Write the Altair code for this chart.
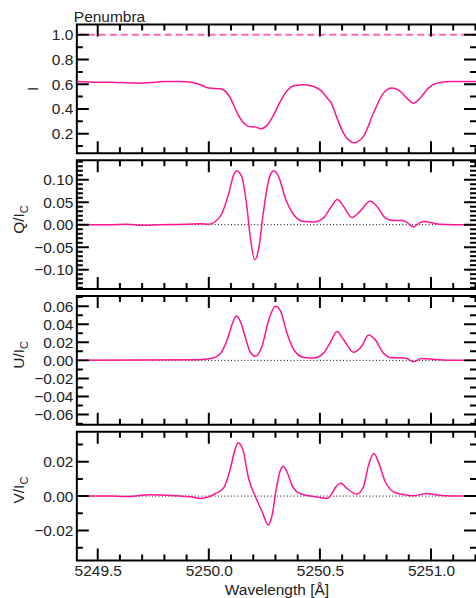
import altair as alt
import pandas as pd

# ---------------- data ----------------
wl_I = [5249.406, 5249.50, 5249.590, 5249.693, 5249.76, 5249.815, 5249.87, 5249.918, 5249.963,
        5250.000, 5250.053, 5250.075, 5250.097, 5250.128, 5250.157, 5250.180, 5250.210, 5250.235,
        5250.262, 5250.292, 5250.322, 5250.352, 5250.382, 5250.427, 5250.472, 5250.509, 5250.539,
        5250.547, 5250.577, 5250.606, 5250.630, 5250.652, 5250.666, 5250.696, 5250.741,
        5250.786, 5250.824, 5250.853, 5250.891, 5250.921, 5250.951, 5250.988, 5251.026, 5251.086,
        5251.216]
I_vals = [0.623, 0.617, 0.615, 0.609, 0.617, 0.623, 0.622, 0.617, 0.596,
          0.569, 0.564, 0.542, 0.488, 0.367, 0.286, 0.259, 0.253, 0.240,
          0.267, 0.353, 0.461, 0.547, 0.588, 0.596, 0.582, 0.542, 0.475,
          0.461, 0.326, 0.205, 0.148, 0.126, 0.132, 0.178, 0.367,
          0.528, 0.569, 0.555, 0.488, 0.447, 0.488, 0.569, 0.609, 0.623,
          0.623]

wl_Q = [5249.406, 5249.55, 5249.63, 5249.70, 5249.78, 5249.90, 5249.963, 5250.000, 5250.030,
        5250.060, 5250.090, 5250.112, 5250.126, 5250.140, 5250.150, 5250.172, 5250.187, 5250.207,
        5250.225, 5250.244, 5250.265, 5250.280, 5250.292, 5250.314, 5250.344, 5250.382, 5250.427,
        5250.472, 5250.516, 5250.547, 5250.579, 5250.606, 5250.644, 5250.681, 5250.726, 5250.756,
        5250.794, 5250.831, 5250.869, 5250.894, 5250.921, 5250.948, 5250.973, 5251.003, 5251.041,
        5251.100, 5251.216]
Q_vals = [0.0, 0.0, 0.001, -0.0015, 0.0, 0.0008, 0.002, 0.001, 0.007,
          0.026, 0.070, 0.111, 0.120, 0.114, 0.104, 0.037, -0.030, -0.078,
          -0.052, 0.022, 0.089, 0.114, 0.120, 0.107, 0.059, 0.022, 0.007,
          0.006, 0.015, 0.037, 0.056, 0.041, 0.016, 0.030, 0.052, 0.041,
          0.015, 0.009, 0.010, 0.004, -0.005, 0.004, 0.007, 0.004, 0.001,
          0.0, 0.0]

wl_U = [5249.406, 5249.95, 5250.008, 5250.053, 5250.083, 5250.105, 5250.124, 5250.142, 5250.165,
        5250.187, 5250.210, 5250.240, 5250.270, 5250.300, 5250.322, 5250.352, 5250.382, 5250.427,
        5250.472, 5250.516, 5250.547, 5250.577, 5250.606, 5250.651, 5250.689, 5250.719, 5250.748,
        5250.786, 5250.824, 5250.861, 5250.891, 5250.921, 5250.958, 5250.996, 5251.055, 5251.216]
U_vals = [0.0, 0.0008, 0.002, 0.008, 0.023, 0.040, 0.049, 0.043, 0.025,
          0.009, 0.0045, 0.016, 0.045, 0.060, 0.055, 0.030, 0.012, 0.0033,
          0.0026, 0.008, 0.020, 0.032, 0.023, 0.009, 0.016, 0.028, 0.023,
          0.008, 0.003, 0.003, 0.002, -0.0015, 0.002, 0.0015, 0.0005, 0.0]

wl_V = [5249.406, 5249.55, 5249.62, 5249.74, 5249.85, 5249.918, 5249.963, 5250.000, 5250.030,
        5250.067, 5250.097, 5250.119, 5250.132, 5250.154, 5250.179, 5250.210, 5250.240, 5250.268,
        5250.285, 5250.304, 5250.322, 5250.334, 5250.352, 5250.374, 5250.404, 5250.457, 5250.494,
        5250.532, 5250.547, 5250.569, 5250.594, 5250.622, 5250.666, 5250.696, 5250.719, 5250.743,
        5250.763, 5250.794, 5250.831, 5250.876, 5250.921, 5250.981, 5251.026, 5251.100, 5251.216]
V_vals = [0.0, 0.0, -0.0003, 0.0008, 0.0002, -0.0004, -0.0014, -0.0004, 0.0015,
          0.0048, 0.016, 0.0276, 0.031, 0.0267, 0.0102, -0.0004, -0.0091, -0.0168,
          -0.011, 0.0044, 0.015, 0.0174, 0.014, 0.0064, 0.0019, 0.0, -0.0006,
          -0.0014, 0.0002, 0.0048, 0.0074, 0.0044, 0.0012, 0.0054, 0.018, 0.0247,
          0.0199, 0.0083, 0.0025, 0.0009, 0.0002, 0.0015, 0.0006, 0.0, 0.0]

x_domain = [5249.406, 5251.216]
x_major = [5249.5, 5250.0, 5250.5, 5251.0]
x_minor = [5249.6, 5249.7, 5249.8, 5249.9, 5250.1, 5250.2, 5250.3, 5250.4,
           5250.6, 5250.7, 5250.8, 5250.9, 5251.1, 5251.2]

I_domain = [0.041, 1.083]
I_major = [0.2, 0.4, 0.6, 0.8, 1.0]
I_minor = [0.1, 0.3, 0.5, 0.7, 0.9]

Q_domain = [-0.143, 0.143]
Q_major = [-0.10, -0.05, 0.0, 0.05, 0.10]
Q_minor = [k / 100 for k in range(-14, 15) if k % 5 != 0]

U_domain = [-0.0712, 0.0712]
U_major = [-0.06, -0.04, -0.02, 0.0, 0.02, 0.04, 0.06]
U_minor = [-0.07, -0.05, -0.03, -0.01, 0.01, 0.03, 0.05, 0.07]

V_domain = [-0.0374, 0.0374]
V_major = [-0.02, 0.0, 0.02]
V_minor = [-0.03, -0.01, 0.01, 0.03]

ref_levels = [1.0, 0.0, 0.0, 0.0]
titles = ["I", "Q/I", "U/I", "V/I"]
subs = ["", "C", "C", "C"]
panel_title = "Penumbra"
x_title = "Wavelength [Å]"

# ---------------- styling ----------------
W, H = 403, 129
LEFT, TOP = 76, 23
FONT = "Liberation Sans"
FS = 15.5
PINK = "#ff1493"
DASH_PINK = "#ff66bb"
TXT = "#222222"
MAJ, MIN = 12, 6


def make_panel(idx, wl, vals, dom, ymaj, ymin, fmt, last):
    xs = alt.Scale(domain=x_domain, nice=False, zero=False)
    ys = alt.Scale(domain=dom, nice=False, zero=False)
    if last:
        xaxis = alt.Axis(values=x_major, format=".1f", labelFont=FONT, labelFontSize=FS,
                         labelColor=TXT, ticks=False, tickSize=0, domain=False, grid=False,
                         labelPadding=3, labelFlush=False, labelOverlap=False,
                         title=x_title, titleFont=FONT, titleFontSize=FS,
                         titleFontWeight="normal", titleColor=TXT,
                         titleBaseline="alphabetic", titleY=34, titleX=200)
    else:
        xaxis = None
    yaxis = alt.Axis(values=ymaj, format=fmt, labelFont=FONT, labelFontSize=FS,
                     labelColor=TXT, ticks=False, tickSize=0, domain=False, grid=False,
                     labelPadding=4, labelFlush=False, labelOverlap=False, title=None)

    df = pd.DataFrame({"wl": wl, "v": vals})
    layers = []

    # invisible anchor fixing the left (and, for the first panel, top) page margin
    anchor = alt.Chart(pd.DataFrame({"s": [""]})).mark_rule(opacity=0, strokeWidth=0)
    if idx == 0:
        layers.append(anchor.encode(x=alt.value(-LEFT), x2=alt.value(0),
                                    y=alt.value(-TOP), y2=alt.value(-TOP)))
    else:
        layers.append(anchor.encode(x=alt.value(-LEFT), x2=alt.value(-LEFT),
                                    y=alt.value(0), y2=alt.value(H)))

    ref = alt.Chart(pd.DataFrame({"v": [ref_levels[idx]]}))
    if idx == 0:
        ref = ref.mark_rule(color=DASH_PINK, strokeWidth=2, strokeDash=[7, 4], clip=True)
    else:
        ref = ref.mark_rule(color="black", strokeWidth=1, strokeDash=[1, 2.3], clip=True)
    layers.append(ref.encode(y=alt.Y("v:Q", scale=ys, axis=yaxis)))

    layers.append(
        alt.Chart(df).mark_line(color=PINK, strokeWidth=1.5, interpolate="monotone", clip=True)
        .encode(x=alt.X("wl:Q", scale=xs, axis=xaxis), y=alt.Y("v:Q", scale=ys, axis=yaxis))
    )

    # inward tick marks on all four sides
    for vals_t, ln in ((x_major, MAJ), (x_minor, MIN)):
        d = alt.Chart(pd.DataFrame({"t": vals_t}))
        xe = alt.X("t:Q", scale=xs, axis=xaxis)
        layers.append(d.mark_rule(color="black", strokeWidth=2, clip=True)
                      .encode(x=xe, y=alt.value(H), y2=alt.value(H - ln)))
        layers.append(d.mark_rule(color="black", strokeWidth=2, clip=True)
                      .encode(x=xe, y=alt.value(0), y2=alt.value(ln)))
    for vals_t, ln in ((ymaj, MAJ), (ymin, MIN)):
        d = alt.Chart(pd.DataFrame({"t": vals_t}))
        ye = alt.Y("t:Q", scale=ys, axis=yaxis)
        layers.append(d.mark_rule(color="black", strokeWidth=2, clip=True)
                      .encode(y=ye, x=alt.value(0), x2=alt.value(ln)))
        layers.append(d.mark_rule(color="black", strokeWidth=2, clip=True)
                      .encode(y=ye, x=alt.value(W - 3), x2=alt.value(W - 3 - ln)))

    # y title (with subscript)
    if subs[idx]:
        y0 = 53
        layers.append(alt.Chart(pd.DataFrame({"s": [titles[idx]]}))
                      .mark_text(angle=270, align="right", baseline="alphabetic", font=FONT,
                                 fontSize=FS, color=TXT)
                      .encode(text="s:N", x=alt.value(-53), y=alt.value(y0)))
        layers.append(alt.Chart(pd.DataFrame({"s": [subs[idx]]}))
                      .mark_text(angle=270, align="left", baseline="alphabetic", font=FONT,
                                 fontSize=11, color=TXT)
                      .encode(text="s:N", x=alt.value(-49), y=alt.value(y0)))
    else:
        layers.append(alt.Chart(pd.DataFrame({"s": [titles[idx]]}))
                      .mark_text(angle=270, align="center", baseline="alphabetic", font=FONT,
                                 fontSize=FS, color=TXT)
                      .encode(text="s:N", x=alt.value(-39), y=alt.value(H / 2)))
        layers.append(alt.Chart(pd.DataFrame({"s": [panel_title]}))
                      .mark_text(align="left", baseline="alphabetic", font=FONT,
                                 fontSize=FS, color=TXT)
                      .encode(text="s:N", x=alt.value(-3), y=alt.value(-3)))

    return alt.layer(*layers).properties(width=W, height=H)


p1 = make_panel(0, wl_I, I_vals, I_domain, I_major, I_minor, ".1f", False)
p2 = make_panel(1, wl_Q, Q_vals, Q_domain, Q_major, Q_minor, ".2f", False)
p3 = make_panel(2, wl_U, U_vals, U_domain, U_major, U_minor, ".2f", False)
p4 = make_panel(3, wl_V, V_vals, V_domain, V_major, V_minor, ".2f", True)

chart = (
    alt.vconcat(p1, p2, p3, p4, spacing=5)
    .properties(padding={"left": 0, "top": 0, "right": -4, "bottom": 0}, background="white")
    .configure_view(stroke="black", strokeWidth=2)
)

chart.save("out.html", embed_options={"renderer": "svg", "actions": False})
